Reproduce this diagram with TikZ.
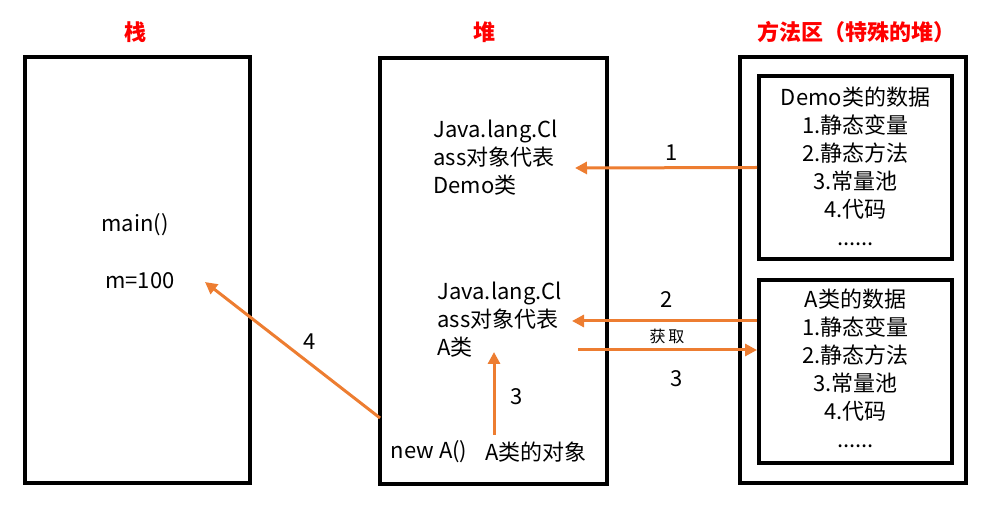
\documentclass[tikz,border=0pt]{standalone}
\usepackage{fontspec}
\setmainfont{Noto Sans CJK SC}
\usetikzlibrary{arrows.meta}
\definecolor{floworange}{HTML}{ED7D31}
\tikzset{
  area/.style={draw,line width=2pt,inner sep=0pt},
  title/.style={text=red,font=\bfseries\fontsize{11}{13}\selectfont},
  txt/.style={font=\fontsize{11}{14}\selectfont,inner sep=0pt},
  num/.style={font=\fontsize{11}{13}\selectfont,inner sep=0pt},
  flow/.style={draw=floworange,line width=1.5pt,-{Triangle[length=6pt,width=6pt]}},
}
\begin{document}
\begin{tikzpicture}[x=0.5pt,y=-0.5pt]
  \useasboundingbox (0,0) rectangle (1002,507);
  % titles
  \node[title] (ttlstack) at (135,32) {栈};
  \node[title] (ttlheap) at (484,32) {堆};
  \node[title] (ttlmethod) at (856,32) {方法区（特殊的堆）};
  % areas
  \node[area,minimum width=112.5pt,minimum height=213pt] (stack) at (137.5,270) {};
  \node[area,minimum width=113.5pt,minimum height=213pt] (heap) at (493.5,271) {};
  \node[area,minimum width=113pt,minimum height=213pt] (method) at (853,270) {};
  \node[area,minimum width=96.5pt,minimum height=91.5pt] (demobox) at (855.5,167.5) {};
  \node[area,minimum width=96.5pt,minimum height=91.5pt] (abox) at (855.5,371.5) {};
  % stack
  \node[txt] (main) at (135,225) {main()};
  \node[txt] (mvar) at (140,281) {m=100};
  % heap
  \node[txt,align=left,anchor=west] (cls1) at (433,158) {Java.lang.Cl\\ass对象代表\\Demo类};
  \node[txt,align=left,anchor=west] (cls2) at (437,320) {Java.lang.Cl\\ass对象代表\\A类};
  \node[txt] (newa) at (429,452) {new A()};
  \node[txt] (aobj) at (536,452) {A类的对象};
  % method area
  \node[txt,align=center] (demodata) at (855.5,166) {Demo类的数据\\1.静态变量\\2.静态方法\\3.常量池\\4.代码\\......};
  \node[txt,align=center] (adata) at (855.5,368) {A类的数据\\1.静态变量\\2.静态方法\\3.常量池\\4.代码\\......};
  % arrows
  \coordinate (cls1in) at (575,168);
  \coordinate (cls2in) at (572,321);
  \coordinate (cls2out) at (578,350);
  \coordinate (objtop) at (494,352);
  \coordinate (objbot) at (494,435);
  \coordinate (newout) at (380,418);
  \coordinate (mvarin) at (205,282);
  \draw[flow] (demobox.west) -- (cls1in);
  \draw[flow] (abox.west |- cls2in) -- (cls2in);
  \draw[flow] (cls2out) -- (abox.west |- cls2out);
  \draw[flow] (objbot) -- (objtop);
  \draw[flow] (newout) -- (mvarin);
  % labels
  \node[num] (lbl1) at (672,153) {1};
  \node[num] (lbl2) at (667,300) {2};
  \node[font=\fontsize{8}{10}\selectfont,inner sep=0pt] (fetch) at (667,336) {获\,取};
  \node[num] (lbl3) at (677,379) {3};
  \node[num] (lbl3b) at (517,397) {3};
  \node[num] (lbl4) at (310,342) {4};
\end{tikzpicture}
\end{document}
